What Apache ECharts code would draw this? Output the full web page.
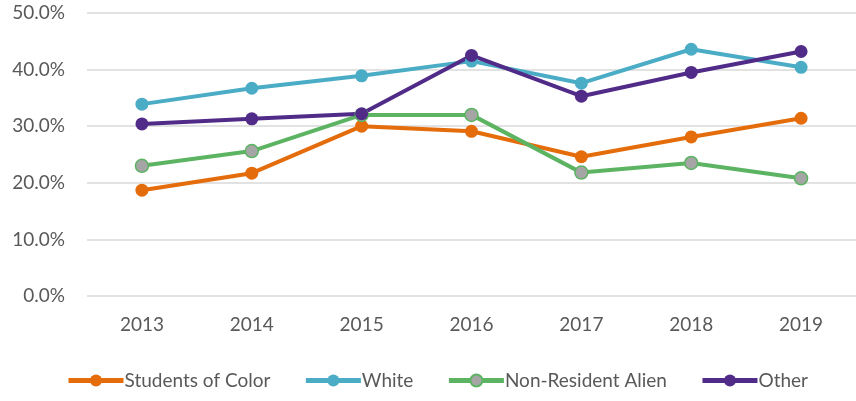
<!DOCTYPE html>
<html>
<head>
<meta charset="utf-8">
<script src="https://cdn.jsdelivr.net/npm/echarts@6/dist/echarts.min.js"></script>
<style>
  html, body { margin: 0; padding: 0; background: #fff; }
  #chart { width: 856px; height: 401px; }
</style>
</head>
<body>
<div id="chart"></div>
<script>
const years = ["2013", "2014", "2015", "2016", "2017", "2018", "2019"];
const studentsOfColor = [18.7, 21.7, 30.0, 29.1, 24.6, 28.1, 31.4];
const white = [33.9, 36.7, 38.9, 41.5, 37.6, 43.6, 40.4];
const nonResidentAlien = [23.0, 25.6, 32.0, 32.0, 21.8, 23.5, 20.8];
const other = [30.4, 31.3, 32.2, 42.5, 35.3, 39.5, 43.2];

const font = "Lato, 'Open Sans', sans-serif";

let makeSeries = (name, data, color, fill) => ({
    name: name,
    type: "line",
    data: data,
    symbol: "circle",
    symbolSize: 13,
    lineStyle: { color: color, width: 4 },
    itemStyle: { color: fill || color, borderColor: color, borderWidth: fill ? 1.5 : 0 },
    emphasis: { disabled: true },
    animation: false,
});

const chart = echarts.init(document.getElementById("chart"));
chart.setOption({
    textStyle: { fontFamily: font },
    grid: { left: 87, right: 0, top: 13, bottom: 105 },
    xAxis: {
        type: "category",
        data: years,
        boundaryGap: true,
        axisLine: { show: false },
        axisTick: { show: false },
        axisLabel: { color: "#595959", fontSize: 19, margin: 19, fontFamily: font },
    },
    yAxis: {
        type: "value",
        min: 0,
        max: 50,
        interval: 10,
        axisLabel: {
            color: "#595959",
            fontSize: 19,
            margin: 22,
            fontFamily: font,
            formatter: (v) => v.toFixed(1) + "%",
        },
        splitLine: { lineStyle: { color: "#d9d9d9", width: 1.5 } },
    },
    legend: {
        bottom: 6,
        left: 61,
        itemWidth: 55,
        itemHeight: 15,
        itemGap: 33,
        lineStyle: { width: 5 },
        textStyle: { color: "#595959", fontSize: 19, fontFamily: font, padding: [0, 0, 0, -4] },
        data: ["Students of Color", "White", "Non-Resident Alien", "Other"],
    },
    series: [
        makeSeries("Students of Color", studentsOfColor, "#E46C0A"),
        makeSeries("White", white, "#4BACC6"),
        makeSeries("Non-Resident Alien", nonResidentAlien, "#5CB462", "#A5A5A5"),
        makeSeries("Other", other, "#512B88"),
    ],
});
</script>
</body>
</html>
